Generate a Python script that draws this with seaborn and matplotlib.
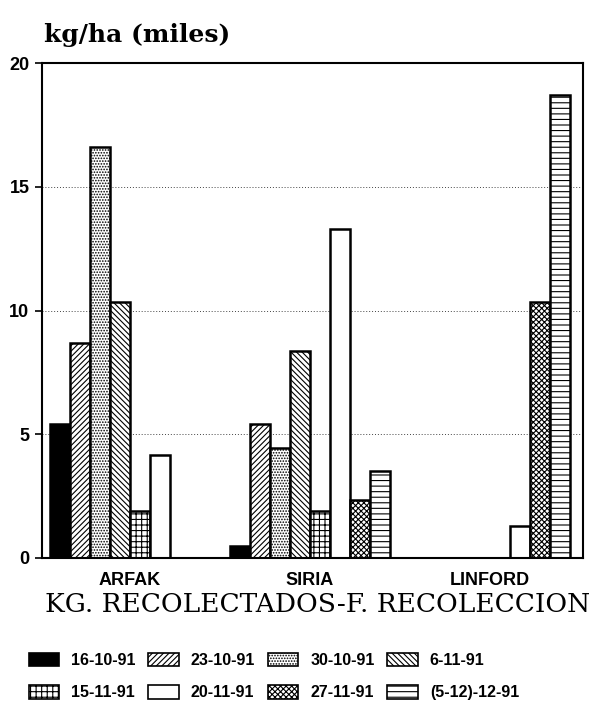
import pandas as pd
import matplotlib
matplotlib.use("Agg")
import matplotlib.pyplot as plt
from matplotlib.patches import Patch
import seaborn as sns

# data (kg/ha, miles)
variedades = ["ARFAK", "SIRIA", "LINFORD"]
fechas = ["16-10-91", "23-10-91", "30-10-91", "6-11-91",
          "15-11-91", "20-11-91", "27-11-91", "(5-12)-12-91"]

f16_10 = [5.4, 0.5, 0.0]
f23_10 = [8.7, 5.4, 0.0]
f30_10 = [16.6, 4.45, 0.0]
f06_11 = [10.35, 8.35, 0.0]
f15_11 = [1.9, 1.9, 0.0]
f20_11 = [4.15, 13.3, 1.3]
f27_11 = [0.0, 2.35, 10.35]
f05_12 = [0.0, 3.5, 18.7]

series = [f16_10, f23_10, f30_10, f06_11, f15_11, f20_11, f27_11, f05_12]

# fill + hatch for every harvest date
estilos = [("black", ""), ("white", "//////"), ("white", "......"),
           ("white", "\\\\\\\\\\\\"), ("white", "+++"), ("white", ""),
           ("white", "xxxxxx"), ("white", "---")]


def build_df():
    rows = []
    for fecha, vals in zip(fechas, series):
        for var, v in zip(variedades, vals):
            rows.append({"variedad": var, "fecha": fecha, "kg": v})
    return pd.DataFrame(rows)


def plot_chart(df):
    sns.set_style("white")
    plt.rcParams.update({"hatch.linewidth": 0.8, "hatch.color": "black",
                         "text.color": "black", "axes.labelcolor": "black",
                         "xtick.color": "black", "ytick.color": "black"})
    fig = plt.figure(figsize=(6.04, 7.12), dpi=100)
    ax = fig.add_axes([0.0695, 0.2163, 0.8955, 0.6952])

    sns.barplot(data=df, x="variedad", y="kg", hue="fecha", order=variedades,
                hue_order=fechas, width=0.889, color="white", saturation=1,
                edgecolor="black", linewidth=1.8, legend=False, ax=ax)

    for cont, (fc, hatch) in zip(ax.containers, estilos):
        for bar in cont:
            bar.set_facecolor(fc)
            bar.set_hatch(hatch)

    ax.set_ylim(0, 20)
    ax.set_xlim(-0.489, 2.517)
    ax.set_yticks([0, 5, 10, 15, 20])
    for y in [5, 10, 15]:
        ax.axhline(y, color="#444444", lw=0.7, ls=(0, (1, 2)), zorder=0)

    for s in ax.spines.values():
        s.set_visible(True)
        s.set_color("black")
        s.set_linewidth(1.5)

    ax.tick_params(axis="y", length=5, width=1.2, direction="out", left=True, pad=4)
    ax.tick_params(axis="x", length=0, pad=10)
    for lab in ax.get_yticklabels() + ax.get_xticklabels():
        lab.set_fontfamily("Liberation Sans")
        lab.set_fontweight("bold")
        lab.set_fontsize(13)

    ax.set_xlabel("")
    ax.set_ylabel("")
    fig.text(0.073, 0.941, "kg/ha (miles)", family="DejaVu Serif", fontsize=18,
             weight="bold", ha="left", va="baseline")
    fig.text(0.075, 0.133, "KG. RECOLECTADOS-F. RECOLECCION", family="DejaVu Serif",
             fontsize=19, ha="left", va="bottom")

    # row-major order like the original: reorder for matplotlib's column fill
    orden = [0, 4, 1, 5, 2, 6, 3, 7]
    handles = [Patch(facecolor=estilos[i][0], hatch=estilos[i][1],
                     edgecolor="black", linewidth=1.2) for i in orden]
    etiquetas = [fechas[i] for i in orden]
    fig.legend(handles, etiquetas, ncol=4, loc="lower left",
               bbox_to_anchor=(0.024, -0.004), frameon=False,
               prop={"family": "Liberation Sans", "weight": "bold", "size": 11.5},
               handlelength=1.9, handleheight=0.9, columnspacing=0.8,
               handletextpad=0.75, labelspacing=1.1)
    fig.savefig("out.png", dpi=100)


if __name__ == "__main__":
    plot_chart(build_df())
